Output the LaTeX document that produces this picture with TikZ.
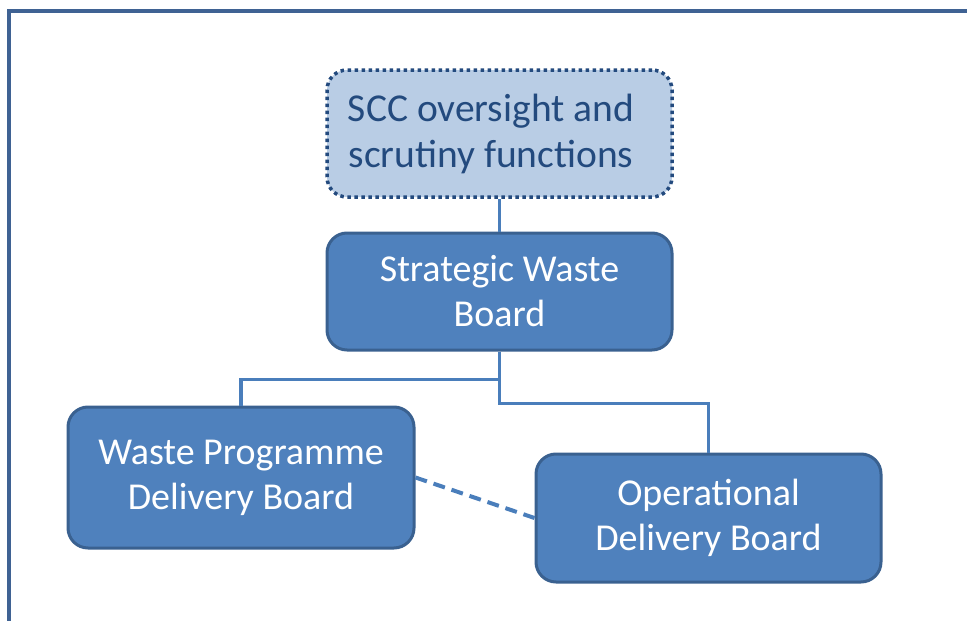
\documentclass[tikz,border=0pt]{standalone}
\usepackage{fontspec}
\setmainfont{Carlito}
\definecolor{frameblue}{HTML}{3F6293}
\definecolor{boxfill}{HTML}{4F81BD}
\definecolor{boxline}{HTML}{3A6190}
\definecolor{lightfill}{HTML}{B9CDE5}
\definecolor{darktext}{HTML}{234A7E}
\definecolor{connblue}{HTML}{4A7EBB}
\begin{document}
\begin{tikzpicture}[x=1pt,y=-1pt,
  box/.style={rectangle, rounded corners=20pt, fill=boxfill, draw=boxline, line width=3pt,
    text=white, align=center, inner sep=0pt, font=\fontsize{38}{45}\selectfont},
  lightbox/.style={box, fill=lightfill, draw=darktext, text=darktext,
    dash pattern=on 3.5pt off 3.5pt, line width=3.5pt},
  conn/.style={draw=connblue, line width=3.5pt},
  dashconn/.style={draw=connblue, line width=4pt, dash pattern=on 12pt off 7pt}]
\useasboundingbox (0,0) rectangle (967,621);
\draw[frameblue, line width=4pt] (8.5,621) -- (8.5,10.5) -- (967,10.5);
\node[lightbox, minimum width=345pt, minimum height=127pt] (scc) at (499.5,133.5) {};
\node[text=darktext, align=center, inner sep=0pt, font=\fontsize{39.5}{46}\selectfont] (scctext) at (491,134) {SCC oversight and\\scrutiny functions};
\node[box, minimum width=345pt, minimum height=117pt] (swb) at (499.5,291.5) {Strategic Waste\\Board};
\node[box, minimum width=346pt, minimum height=141pt] (wpdb) at (241,477.5) {Waste Programme\\Delivery Board};
\node[box, minimum width=345pt, minimum height=128pt] (odb) at (708.5,518) {Operational\\Delivery Board};
\draw[conn] (scc.south) -- (swb.north);
\draw[conn] (swb.south) -- ++(0,28) -| (wpdb.north);
\draw[conn] (swb.south) -- ++(0,52) -| (odb.north);
\draw[dashconn] (wpdb.east) -- (odb.west);
\end{tikzpicture}
\end{document}
